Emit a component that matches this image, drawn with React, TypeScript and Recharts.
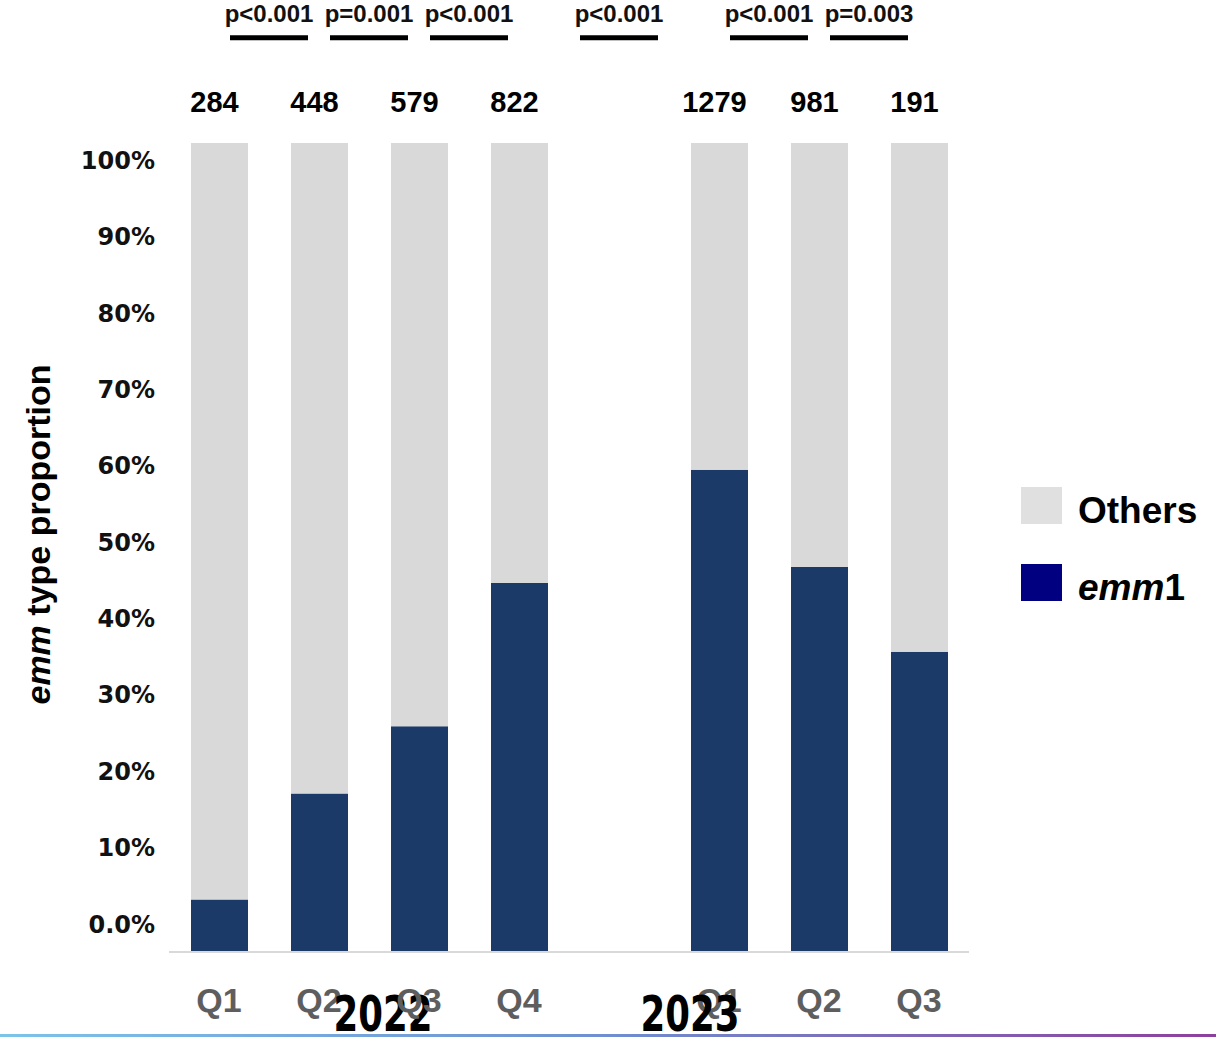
import React from 'react';
import { BarChart, Bar, XAxis, YAxis, LabelList, ReferenceLine, Legend } from 'recharts';

// ---- data ----
const quarters = ['Q1', 'Q2', 'Q3', 'Q4', '', 'Q1', 'Q2', 'Q3'];
const emm1Pct: (number | null)[] = [6.5, 19.6, 27.9, 45.6, null, 59.6, 47.6, 37.1];
const sampleSizes: (number | null)[] = [284, 448, 579, 822, null, 1279, 981, 191];
const comparisons = [
  { from: 0, to: 1, p: 'p<0.001' },
  { from: 1, to: 2, p: 'p=0.001' },
  { from: 2, to: 3, p: 'p<0.001' },
  { from: 3, to: 5, p: 'p<0.001' },
  { from: 5, to: 6, p: 'p<0.001' },
  { from: 6, to: 7, p: 'p=0.003' },
];
const yTickValues = [0, 10, 20, 30, 40, 50, 60, 70, 80, 90, 100];
const yearLabels = [
  { text: '2022', tickIndex: 1, dx: 64 },
  { text: '2023', tickIndex: 5, dx: -29 },
];
const legendItems = [
  { key: 'others', label: 'Others', italic: '', color: '#e0e0e0' },
  { key: 'emm1', label: '1', italic: 'emm', color: '#000080' },
];

const data = quarters
  .map((q, i) => ({
    pos: i,
    quarter: q,
    emm1: emm1Pct[i],
    others: emm1Pct[i] == null ? null : Math.round((100 - (emm1Pct[i] as number)) * 10) / 10,
    n: sampleSizes[i],
  }))
  .filter((d) => d.emm1 != null);

const xTicks = quarters.map((q, i) => (q ? i : -1)).filter((i) => i >= 0);

const FONT = "'Liberation Sans', Arial, Helvetica, sans-serif";

const QTick = (props: any) => {
  const { x, y, payload } = props;
  const i = payload.value as number;
  const yl = yearLabels.find((l) => l.tickIndex === i);
  return (
    <g>
      <text x={x} y={y + 52} textAnchor="middle" fontSize={34} fontWeight="bold" fill="#5e5e5e" fontFamily={FONT}>
        {quarters[i]}
      </text>
      {yl && (
        <text
          transform={`translate(${x + yl.dx}, ${y + 71}) scale(0.79, 1)`}
          x={0}
          y={0}
          textAnchor="middle"
          fontSize={50}
          fontWeight="bold"
          fill="#000"
          fontFamily="'Liberation Sans Narrow', 'DejaVu Sans Condensed', sans-serif"
        >
          {yl.text}
        </text>
      )}
    </g>
  );
};

const YTick = (props: any) => {
  const { x, y, payload } = props;
  const v = payload.value as number;
  return (
    <text x={x} y={y} dy="0.355em" textAnchor="end" fontSize={24} fontWeight="bold" fill="#111" fontFamily="'DejaVu Sans', sans-serif">
      {v === 0 ? '0.0%' : `${v}%`}
    </text>
  );
};

const YTitle = (props: any) => {
  const vb = props.viewBox || {};
  const cx = vb.x + 18;
  const cy = vb.y + vb.height / 2 - 13;
  return (
    <text
      x={cx}
      y={cy}
      transform={`rotate(-90, ${cx}, ${cy})`}
      textAnchor="middle"
      dominantBaseline="central"
      fontSize={34}
      fontWeight="bold"
      fill="#000"
      fontFamily={FONT}
    >
      <tspan fontStyle="italic">emm</tspan>
      <tspan> type proportion</tspan>
    </text>
  );
};

const renderLegend = () => (
  <div style={{ display: 'flex', flexDirection: 'column', gap: 40 }}>
    {legendItems.map((item) => (
      <div key={item.key} style={{ display: 'flex', alignItems: 'center', height: 37 }}>
        <div style={{ width: 41, height: 37, background: item.color, flexShrink: 0 }} />
        <span
          style={{
            marginLeft: 16,
            fontSize: 37,
            fontWeight: 'bold',
            fontFamily: FONT,
            color: '#000',
            position: 'relative',
            top: 5,
            lineHeight: '37px',
            whiteSpace: 'nowrap',
          }}
        >
          {item.italic && <i>{item.italic}</i>}
          {item.label}
        </span>
      </div>
    ))}
  </div>
);

export default function App() {
  return (
    <div style={{ position: 'absolute', left: 0, top: 0, width: 1216, height: 1037, background: '#fff', overflow: 'hidden' }}>
      <BarChart
        width={1216}
        height={1037}
        data={data}
        margin={{ top: 143, right: 247, bottom: 25, left: 20 }}
        style={{ fontFamily: FONT }}
      >
        <XAxis
          type="number"
          dataKey="pos"
          domain={[-0.5, 7.5]}
          ticks={xTicks}
          interval={0}
          height={60}
          tickLine={false}
          axisLine={{ stroke: '#d9d9d9', strokeWidth: 2 }}
          tick={<QTick />}
        />
        <YAxis
          yAxisId="labels"
          width={149}
          domain={[-3.667, 102.29]}
          allowDataOverflow
          ticks={yTickValues}
          interval={0}
          axisLine={false}
          tickLine={false}
          tickSize={6}
          tickMargin={8}
          tick={<YTick />}
          label={(p: any) => <YTitle {...p} />}
        />
        <YAxis yAxisId={0} hide width={0} domain={[0, 100]} />
        <Bar dataKey="emm1" stackId="a" fill="#1b3a68" barSize={57} isAnimationActive={false} />
        <Bar dataKey="others" stackId="a" fill="#d9d9d9" barSize={57} isAnimationActive={false}>
          <LabelList dataKey="n" position="top" offset={31} dx={-5} fontSize={29} fontWeight="bold" fill="#000" />
        </Bar>
        {comparisons.map((c) => {
          const mid = (c.from + c.to) / 2;
          return (
            <ReferenceLine
              key={`${c.from}-${c.to}`}
              ifOverflow="visible"
              segment={[
                { x: mid - 0.39, y: 113 },
                { x: mid + 0.39, y: 113 },
              ]}
              stroke="#000"
              strokeWidth={5}
              label={{ value: c.p, position: 'top', offset: 16, fontSize: 24, fontWeight: 'bold', fill: '#111' }}
            />
          );
        })}
        <Legend
          layout="vertical"
          align="center"
          verticalAlign="middle"
          content={renderLegend}
          wrapperStyle={{ left: 1021, top: 487, width: 195, height: 120 }}
        />
      </BarChart>
      <div
        style={{
          position: 'absolute',
          left: 0,
          top: 1034,
          width: 1216,
          height: 3,
          background: 'linear-gradient(to right, #7cc3ea, #6f8fd0 50%, #8e3f9c)',
        }}
      />
    </div>
  );
}
